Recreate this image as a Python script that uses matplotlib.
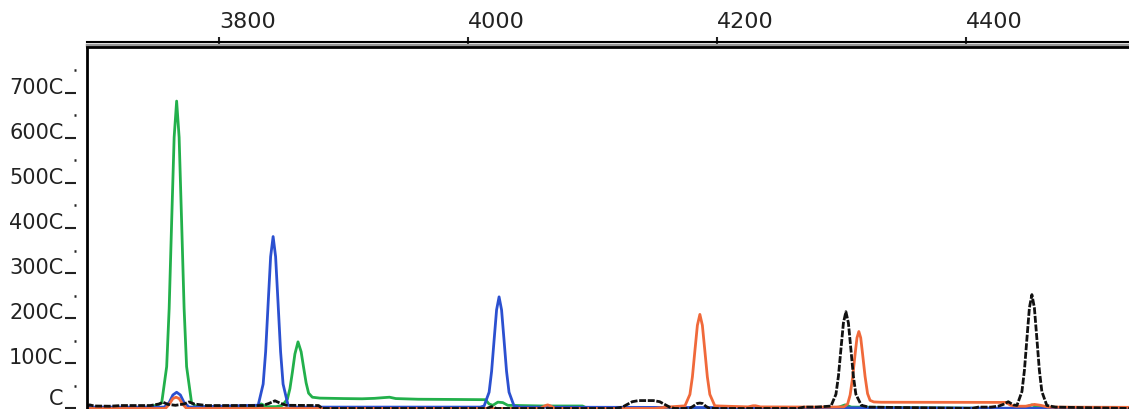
import matplotlib.pyplot as plt

# Scan positions (top axis) and tick labels
x_ticks = [3800, 4000, 4200, 4400]
x_labels = ['3800', '4000', '4200', '4400']
y_ticks = [0, 1000, 2000, 3000, 4000, 5000, 6000, 7000]
y_labels = ['C', '100C', '200C', '300C', '400C', '500C', '600C', '700C']
y_minor = [500, 1500, 2500, 3500, 4500, 5500, 6500, 7500]

# Green trace
green_x = [3694, 3738, 3745, 3750, 3754, 3758, 3760, 3762, 3764, 3766, 3768,
           3770, 3772, 3774, 3778, 3782, 3830, 3834, 3838, 3846, 3851, 3855,
           3857, 3859, 3861, 3863.5, 3866, 3868, 3870, 3872, 3875, 3881, 3900,
           3915, 3925, 3932, 3937, 3942, 3960, 3990, 4014, 4017, 4020, 4024,
           4028, 4032, 4060, 4092, 4096, 4290, 4298, 4303, 4308, 4440, 4448,
           4453, 4458, 4531]
green_y = [-10, -10, 40, 60, 115, 920, 2215, 4140, 6015, 6820, 6015,
           4140, 2215, 920, 115, 30, 30, 90, 30, 30, 60, 200,
           430, 800, 1200, 1470, 1250, 900, 560, 330, 240, 220, 210,
           205, 215, 230, 240, 210, 195, 190, 185, 90, 60, 130,
           120, 60, 45, 45, -10, -10, 20, 70, 20, -10, 20,
           70, 20, -10]

# Blue trace
blue_x = [3694, 3752, 3756, 3760, 3763, 3766, 3769, 3772, 3776, 3831.5, 3835.5,
          3837.5, 3839.5, 3841.5, 3843.5, 3845.5, 3847.5, 3849.5, 3851.5, 3855.5,
          3862, 4010, 4013, 4017, 4019, 4021, 4023, 4025, 4027, 4029, 4031,
          4033, 4037, 4042, 4531]
blue_y = [20, 20, 20, 120, 290, 350, 290, 120, 20, 62, 532,
          1252, 2320, 3363, 3810, 3363, 2320, 1252, 532, 62,
          20, 20, 47, 351, 816, 1507, 2181, 2470, 2181, 1507, 816,
          351, 47, 20, -10]

# Orange trace
orange_x = [3694, 3757, 3760, 3763, 3765.5, 3768, 3771, 3774, 4058, 4062, 4064,
            4066, 4070, 4150, 4162, 4174.3, 4178.3, 4180.3, 4182.3, 4184.3,
            4186.3, 4188.3, 4190.3, 4192.3, 4194.3, 4198.3, 4225, 4229, 4231,
            4235, 4290, 4302, 4305, 4307, 4309, 4311, 4312.5, 4314, 4315.5,
            4317, 4319, 4321, 4323, 4326, 4332, 4432, 4436, 4440, 4448, 4455,
            4460, 4466, 4531]
orange_y = [-10, -10, 80, 210, 240, 210, 80, -10, -10, 50, 70,
            50, -10, -10, 25, 48, 302, 693, 1272, 1838,
            2080, 1838, 1272, 693, 302, 48, 25, 50, 50,
            25, 20, 25, 90, 290, 680, 1200, 1560, 1700, 1560,
            1200, 700, 320, 170, 135, 128, 125, 60, 40, 40, 80,
            60, 20, 15]

# Black trace
black_x = [3694, 3696, 3700, 3712, 3722, 3745, 3752, 3755, 3759, 3765, 3772,
           3776, 3780, 3790, 3835, 3840, 3845, 3849, 3854, 3880, 3883, 4015,
           4019, 4023, 4118, 4124, 4128, 4132, 4137, 4149, 4154, 4158, 4162,
           4166, 4178, 4181, 4184, 4186.3, 4188.5, 4191, 4194, 4265, 4270,
           4280, 4291.6, 4295.6, 4297.6, 4299.6, 4301.6, 4303.6, 4305.6,
           4307.6, 4309.6, 4311.6, 4316, 4322, 4405, 4410, 4420, 4426, 4430,
           4434, 4438, 4441, 4445, 4447, 4449, 4451, 4453, 4455, 4457, 4459,
           4461, 4465, 4472, 4531]
black_y = [40, 70, 45, 40, 55, 55, 90, 130, 80, 60, 90,
           135, 90, 55, 55, 100, 160, 110, 60, 55, -10, -10,
           30, -10, -10, 20, 80, 140, 165, 165, 140, 80, 20,
           -10, -10, 40, 100, 110, 100, 40, -10, -10, 20,
           20, 43, 306, 709, 1307, 1890, 2140, 1890,
           1307, 709, 306, 60, 20, -10, 20, 20, 40, 80,
           140, 70, 57, 366, 839, 1541, 2226, 2520, 2226, 1541, 839,
           366, 57, 20, -10]

fig = plt.figure(figsize=(11.29, 4.10), dpi=100)
ax = fig.add_axes([87 / 1129, 0.0, 1 - 87 / 1129, 362 / 410])

ax.plot(green_x, green_y, color='#22b04b', linewidth=2)
ax.plot(blue_x, blue_y, color='#2b50d0', linewidth=2)
ax.plot(orange_x, orange_y, color='#f0693a', linewidth=2)
ax.plot(black_x, black_y, color='#111111', linewidth=2, linestyle=(0, (2.5, 0.6)))

ax.set_xlim(3694, 4531)
ax.set_ylim(-22, 8022)

# frame: double line on top, plain line on the left
for side in ['right', 'bottom']:
    ax.spines[side].set_visible(False)
ax.spines['top'].set_linewidth(2)
ax.spines['left'].set_position(('outward', 8))
ax.spines['left'].set_visible(False)
ax.axvline(3694, color='black', linewidth=2, clip_on=False)
ax.plot([0, 1], [1 + 2.5 / 362] * 2, transform=ax.transAxes, color='#999999',
        linewidth=2.5, clip_on=False)
ax.plot([0, 1], [1 + 5 / 362] * 2, transform=ax.transAxes, color='black',
        linewidth=1.5, clip_on=False)

ax.xaxis.tick_top()
ax.set_xticks(x_ticks)
ax.set_xticklabels(x_labels)
ax.tick_params(axis='x', direction='out', length=7.2, width=1.5, pad=4,
               labelsize=16, colors='#222222')
for lab in ax.get_xticklabels():
    lab.set_horizontalalignment('left')

ax.set_yticks(y_ticks)
ax.set_yticklabels(y_labels)
ax.set_yticks(y_minor, minor=True)
ax.tick_params(axis='y', which='major', direction='out', length=8, width=1.5,
               pad=1, labelsize=15, colors='#222222')
ax.tick_params(axis='y', which='minor', direction='out', length=1.8, width=1.8,
               colors='#222222')
for lab in ax.get_yticklabels():
    lab.set_verticalalignment('baseline')
ax.get_yticklabels()[0].set_verticalalignment('bottom')

fig.savefig('out.png', dpi=100)
